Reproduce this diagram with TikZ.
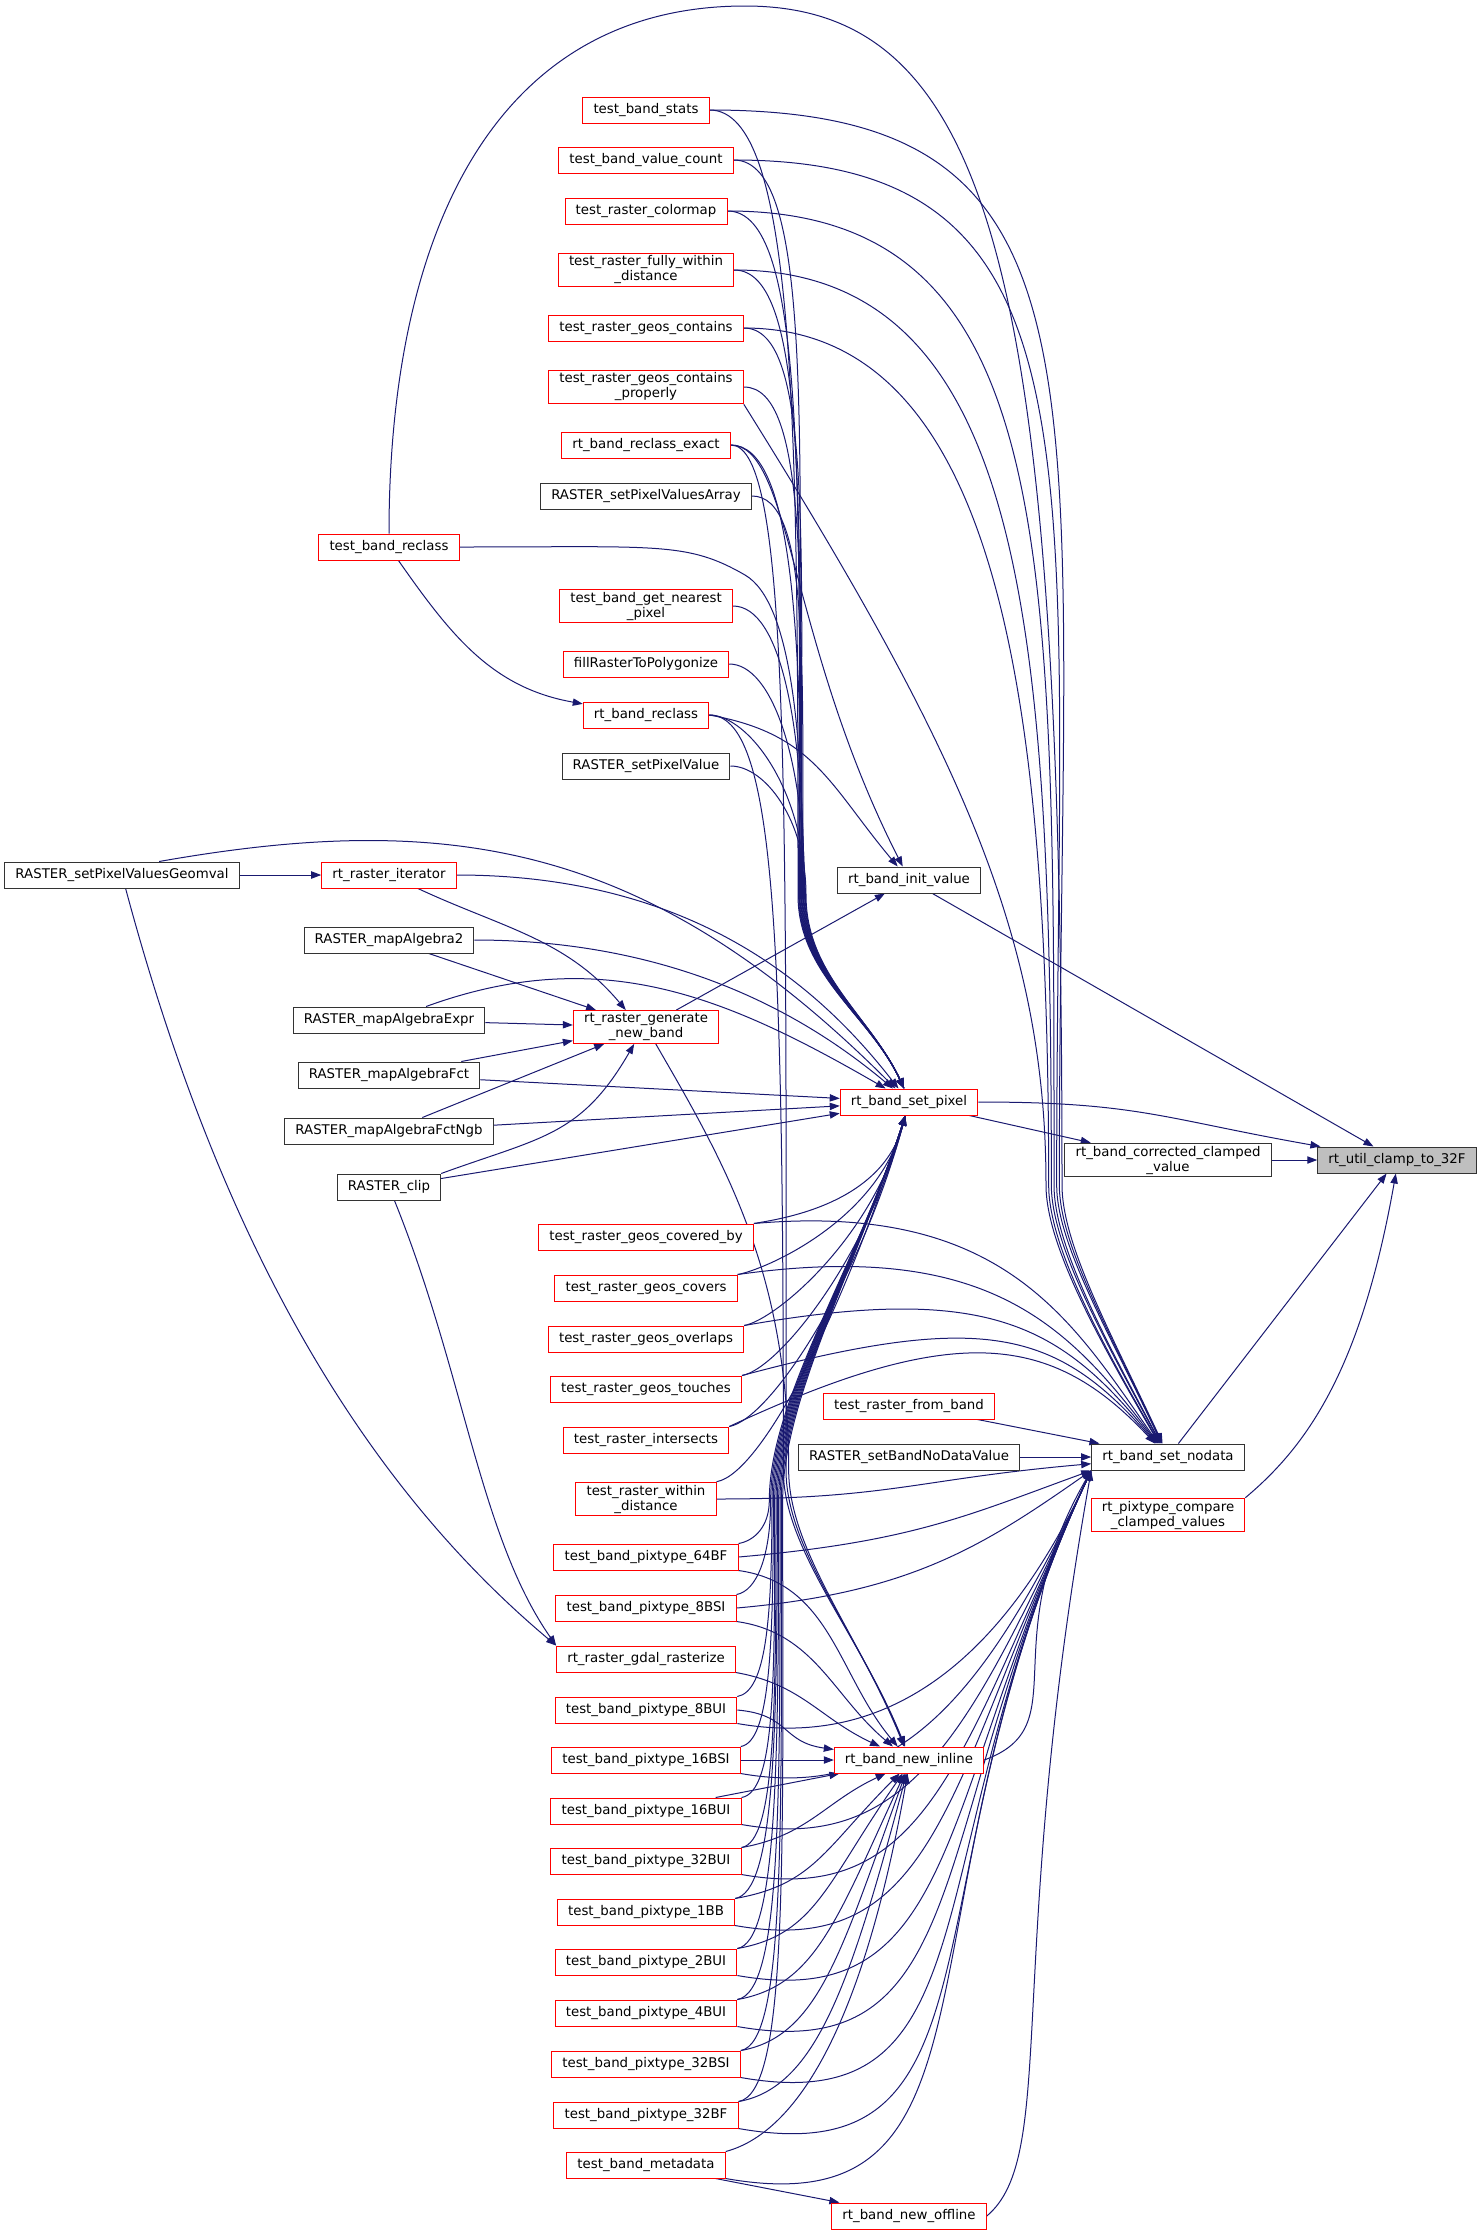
\documentclass[tikz,border=0pt]{standalone}
\usepackage{fontspec}
\setmainfont{DejaVu Sans}
\usetikzlibrary{arrows.meta}
\pgfdeclarelayer{edges}
\pgfsetlayers{edges,main}
\definecolor{edgeblue}{HTML}{191970}
\definecolor{rootgrey}{HTML}{BFBFBF}
\tikzstyle{fn}=[draw=black!80, fill=white, line width=0.75pt, inner xsep=8pt, inner ysep=2pt, minimum height=19.5pt, align=center, font=\fontsize{10}{11.25}\selectfont]
\tikzstyle{fnred}=[fn, draw=red]
\tikzstyle{fnroot}=[fn, fill=rootgrey]
\tikzstyle{call}=[edgeblue, line width=0.75pt, -{Triangle[length=7.5pt,width=5.5pt]}]

\begin{document}
\begin{tikzpicture}[x=0.75pt, y=-0.75pt]
\useasboundingbox (0,0) rectangle (1481,2235);

% the called function and the functions around it
\node[fnroot] (clamp) at (1397,1160) {rt\_util\_clamp\_to\_32F};
\node[fn] (corrected) at (1168,1160) {rt\_band\_corrected\_clamped\\\_value};
\node[fn] (setnodata) at (1168,1457) {rt\_band\_set\_nodata};
\node[fnred] (pixcompare) at (1168,1515) {rt\_pixtype\_compare\\\_clamped\_values};

\node[fn] (initvalue) at (909,880) {rt\_band\_init\_value};
\node[fnred] (setpixel) at (909,1102) {rt\_band\_set\_pixel};
\node[fnred] (fromband) at (909,1406) {test\_raster\_from\_band};
\node[fn] (setbandnodata) at (909,1457) {RASTER\_setBandNoDataValue};
\node[fnred] (newinline) at (909,1760) {rt\_band\_new\_inline};
\node[fnred] (newoffline) at (909,2216) {rt\_band\_new\_offline};

% callers, third column
\node[fnred] (stats) at (646,110) {test\_band\_stats};
\node[fnred] (valcount) at (646,160) {test\_band\_value\_count};
\node[fnred] (colormap) at (646,211) {test\_raster\_colormap};
\node[fnred] (fullywithin) at (646,270) {test\_raster\_fully\_within\\\_distance};
\node[fnred] (contains) at (646,328) {test\_raster\_geos\_contains};
\node[fnred] (containsprop) at (646,387) {test\_raster\_geos\_contains\\\_properly};
\node[fnred] (reclassexact) at (646,445) {rt\_band\_reclass\_exact};
\node[fn] (pvarray) at (646,496) {RASTER\_setPixelValuesArray};
\node[fnred] (nearest) at (646,606) {test\_band\_get\_nearest\\\_pixel};
\node[fnred] (fillraster) at (646,664) {fillRasterToPolygonize};
\node[fnred] (bandreclass) at (646,715) {rt\_band\_reclass};
\node[fn] (setpixelvalue) at (646,766) {RASTER\_setPixelValue};
\node[fnred] (gennewband) at (646,1027) {rt\_raster\_generate\\\_new\_band};
\node[fnred] (coveredby) at (646,1237) {test\_raster\_geos\_covered\_by};
\node[fnred] (covers) at (646,1288) {test\_raster\_geos\_covers};
\node[fnred] (overlaps) at (646,1339) {test\_raster\_geos\_overlaps};
\node[fnred] (touches) at (646,1389) {test\_raster\_geos\_touches};
\node[fnred] (intersects) at (646,1440) {test\_raster\_intersects};
\node[fnred] (withindist) at (646,1499) {test\_raster\_within\\\_distance};
\node[fnred] (p64BF) at (646,1557) {test\_band\_pixtype\_64BF};
\node[fnred] (p8BSI) at (646,1608) {test\_band\_pixtype\_8BSI};
\node[fnred] (rasterize) at (646,1659) {rt\_raster\_gdal\_rasterize};
\node[fnred] (p8BUI) at (646,1710) {test\_band\_pixtype\_8BUI};
\node[fnred] (p16BSI) at (646,1760) {test\_band\_pixtype\_16BSI};
\node[fnred] (p16BUI) at (646,1811) {test\_band\_pixtype\_16BUI};
\node[fnred] (p32BUI) at (646,1861) {test\_band\_pixtype\_32BUI};
\node[fnred] (p1BB) at (646,1912) {test\_band\_pixtype\_1BB};
\node[fnred] (p2BUI) at (646,1962) {test\_band\_pixtype\_2BUI};
\node[fnred] (p4BUI) at (646,2013) {test\_band\_pixtype\_4BUI};
\node[fnred] (p32BSI) at (646,2064) {test\_band\_pixtype\_32BSI};
\node[fnred] (p32BF) at (646,2115) {test\_band\_pixtype\_32BF};
\node[fnred] (metadata) at (646,2165) {test\_band\_metadata};

% callers, second and first column
\node[fnred] (tbreclass) at (389,547) {test\_band\_reclass};
\node[fnred] (iterator) at (389,875) {rt\_raster\_iterator};
\node[fn] (ma2) at (389,940) {RASTER\_mapAlgebra2};
\node[fn] (maexpr) at (389,1020) {RASTER\_mapAlgebraExpr};
\node[fn] (mafct) at (389,1075) {RASTER\_mapAlgebraFct};
\node[fn] (mangb) at (389,1131) {RASTER\_mapAlgebraFctNgb};
\node[fn] (clip) at (389,1187) {RASTER\_clip};
\node[fn] (geomval) at (122,875) {RASTER\_setPixelValuesGeomval};

% where the long edges gather
\coordinate (arctop) at (745,6);
\coordinate (tbbend) at (745,575);
\coordinate (nodatabend) at (1062,1185);
\coordinate (pixtop) at (802,895);
\coordinate (pixlow) at (776,1500);
\coordinate (inlinetop) at (786,1470);

\begin{pgfonlayer}{edges}
% into rt_util_clamp_to_32F
\draw[call] (initvalue) -- (clamp);
\draw[call] (setpixel.east) .. controls +(0:120pt) and +(170:120pt) .. (clamp.170);
\draw[call] (corrected) -- (clamp);
\draw[call] (setnodata) -- (clamp);
\draw[call] (pixcompare.north east) .. controls +(40:60pt) and +(-100:150pt) .. (clamp.-95);
\draw[call] (setpixel) -- (corrected);

% into rt_band_init_value
\draw[call] (gennewband) -- (initvalue);
\draw[call] (bandreclass.east) .. controls +(-10:80pt) and +(130:80pt) .. (initvalue.130);
\draw[call] (reclassexact.east) .. controls +(0:45pt) and +(117:188pt) .. (initvalue.115);

% into rt_band_set_nodata
\draw[call] (fromband) -- (setnodata);
\draw[call] (setbandnodata) -- (setnodata);
\draw[call] (newinline.east) .. controls +(20:75pt) and +(-120:150pt) .. (setnodata.south west);
\draw[call] (newoffline.east) .. controls +(40:70pt) and +(-100:375pt) .. (setnodata.south west);
\draw[call] (tbreclass.north) .. controls +(90:225pt) and +(180:188pt) .. (arctop)
  .. controls +(0:188pt) and +(90:675pt) .. (nodatabend)
  .. controls +(-90:45pt) and +(115:90pt) .. (setnodata.112);
\draw[call] (stats.east) .. controls +(0:315pt) and +(90:600pt) .. ([xshift=-2pt]nodatabend)
  .. controls +(-90:45pt) and +(115:90pt) .. (setnodata.114);
\draw[call] (valcount.east) .. controls +(0:285pt) and +(90:540pt) .. ([xshift=-4pt]nodatabend)
  .. controls +(-90:45pt) and +(115:90pt) .. (setnodata.116);
\draw[call] (colormap.east) .. controls +(0:248pt) and +(90:480pt) .. ([xshift=-6pt]nodatabend)
  .. controls +(-90:45pt) and +(118:90pt) .. (setnodata.118);
\draw[call] (fullywithin.east) .. controls +(0:218pt) and +(90:420pt) .. ([xshift=-8pt]nodatabend)
  .. controls +(-90:45pt) and +(118:90pt) .. (setnodata.120);
\draw[call] (contains.east) .. controls +(0:188pt) and +(90:375pt) .. ([xshift=-10pt]nodatabend)
  .. controls +(-90:45pt) and +(120:90pt) .. (setnodata.122);
\draw[call] (containsprop.south east) .. controls +(-58:300pt) and +(90:188pt) .. ([xshift=-12pt]nodatabend)
  .. controls +(-90:45pt) and +(120:90pt) .. (setnodata.124);
\draw[call] (coveredby.north east) .. controls +(5:188pt) and +(125:113pt) .. (setnodata.126);
\draw[call] (covers.north east) .. controls +(8:188pt) and +(127:113pt) .. (setnodata.128);
\draw[call] (overlaps.north east) .. controls +(10:188pt) and +(129:113pt) .. (setnodata.130);
\draw[call] (touches.north east) .. controls +(15:188pt) and +(131:113pt) .. (setnodata.132);
\draw[call] (intersects.north east) .. controls +(25:188pt) and +(133:113pt) .. (setnodata.134);
\draw[call] (withindist.east) .. controls +(0:130pt) and +(185:130pt) .. (setnodata.185);
\draw[call] (p64BF.east) .. controls +(5:130pt) and +(200:100pt) .. (setnodata.south west);
\draw[call] (p8BSI.east) .. controls +(5:130pt) and +(215:100pt) .. (setnodata.south west);
\draw[call] (p8BUI.south east) .. controls +(-10:104pt) and +(-115:172pt) .. (setnodata.south west);
\draw[call] (p16BSI.south east) .. controls +(-10:117pt) and +(-115:192pt) .. (setnodata.south west);
\draw[call] (p16BUI.south east) .. controls +(-10:130pt) and +(-115:213pt) .. (setnodata.south west);
\draw[call] (p32BUI.south east) .. controls +(-10:143pt) and +(-115:234pt) .. (setnodata.south west);
\draw[call] (p1BB.south east) .. controls +(-10:157pt) and +(-115:255pt) .. (setnodata.south west);
\draw[call] (p2BUI.south east) .. controls +(-10:170pt) and +(-115:275pt) .. (setnodata.south west);
\draw[call] (p4BUI.south east) .. controls +(-10:183pt) and +(-115:296pt) .. (setnodata.south west);
\draw[call] (p32BSI.south east) .. controls +(-10:196pt) and +(-115:317pt) .. (setnodata.south west);
\draw[call] (p32BF.south east) .. controls +(-10:210pt) and +(-115:338pt) .. (setnodata.south west);
\draw[call] (metadata.south east) .. controls +(-10:223pt) and +(-115:359pt) .. (setnodata.south west);

% into rt_band_set_pixel, from above
\draw[call] (stats.east) .. controls +(0:65pt) and +(90:351pt) .. ([xshift=-3pt]pixtop)
  .. controls +(-90:60pt) and +(115:60pt) .. (setpixel.110);
\draw[call] (valcount.east) .. controls +(0:62pt) and +(90:329pt) .. ([xshift=-2.5pt]pixtop)
  .. controls +(-90:60pt) and +(115:60pt) .. (setpixel.110);
\draw[call] (colormap.east) .. controls +(0:59pt) and +(90:305pt) .. ([xshift=-2pt]pixtop)
  .. controls +(-90:60pt) and +(115:60pt) .. (setpixel.110);
\draw[call] (fullywithin.east) .. controls +(0:56pt) and +(90:279pt) .. ([xshift=-1.5pt]pixtop)
  .. controls +(-90:60pt) and +(115:60pt) .. (setpixel.110);
\draw[call] (contains.east) .. controls +(0:53pt) and +(90:253pt) .. ([xshift=-1pt]pixtop)
  .. controls +(-90:60pt) and +(115:60pt) .. (setpixel.110);
\draw[call] (containsprop.east) .. controls +(0:49pt) and +(90:226pt) .. ([xshift=-0.5pt]pixtop)
  .. controls +(-90:60pt) and +(115:60pt) .. (setpixel.110);
\draw[call] (reclassexact.east) .. controls +(0:46pt) and +(90:200pt) .. (pixtop)
  .. controls +(-90:60pt) and +(115:60pt) .. (setpixel.110);
\draw[call] (pvarray.east) .. controls +(0:43pt) and +(90:177pt) .. ([xshift=0.5pt]pixtop)
  .. controls +(-90:60pt) and +(115:60pt) .. (setpixel.110);
\draw[call] (tbreclass.east) .. controls +(0:150pt) and +(150:50pt) .. (tbbend)
  .. controls +(-30:40pt) and +(90:120pt) .. ([xshift=1pt]pixtop)
  .. controls +(-90:60pt) and +(115:60pt) .. (setpixel.110);
\draw[call] (nearest.east) .. controls +(0:36pt) and +(90:128pt) .. ([xshift=1.5pt]pixtop)
  .. controls +(-90:60pt) and +(115:60pt) .. (setpixel.110);
\draw[call] (fillraster.east) .. controls +(0:32pt) and +(90:102pt) .. ([xshift=2pt]pixtop)
  .. controls +(-90:60pt) and +(115:60pt) .. (setpixel.110);
\draw[call] (bandreclass.east) .. controls +(0:29pt) and +(90:79pt) .. ([xshift=2.5pt]pixtop)
  .. controls +(-90:60pt) and +(115:60pt) .. (setpixel.110);
\draw[call] (setpixelvalue.east) .. controls +(0:26pt) and +(90:56pt) .. ([xshift=3pt]pixtop)
  .. controls +(-90:60pt) and +(115:60pt) .. (setpixel.110);

% into rt_band_set_pixel, from the left
\draw[call] (geomval.20) .. controls +(10:221pt) and +(135:262pt) .. (setpixel.135);
\draw[call] (iterator.east) .. controls +(0:186pt) and +(128:86pt) .. (setpixel.128);
\draw[call] (ma2.east) .. controls +(0:157pt) and +(140:78pt) .. (setpixel.140);
\draw[call] (maexpr.20) .. controls +(20:139pt) and +(150:139pt) .. (setpixel.150);
\draw[call] (mafct) -- (setpixel);
\draw[call] (mangb) -- (setpixel);
\draw[call] (clip) -- (setpixel);

% into rt_band_set_pixel, from below
\draw[call] (coveredby.north east) .. controls +(10:18pt) and +(-105:70pt) .. (setpixel.-105);
\draw[call] (covers.north east) .. controls +(10:21pt) and +(-105:82pt) .. (setpixel.-105);
\draw[call] (overlaps.north east) .. controls +(10:24pt) and +(-105:95pt) .. (setpixel.-105);
\draw[call] (touches.north east) .. controls +(10:28pt) and +(-105:110pt) .. (setpixel.-105);
\draw[call] (intersects.north east) .. controls +(10:32pt) and +(-105:125pt) .. (setpixel.-105);
\draw[call] (withindist.north east) .. controls +(10:36pt) and +(-107:141pt) .. (setpixel.-105);
\draw[call] (p64BF.north east) .. controls +(10:12pt) and +(-90:20pt) .. ([xshift=-5pt]pixlow)
  .. controls +(90:75pt) and +(-108:120pt) .. (setpixel.-105);
\draw[call] (p8BSI.north east) .. controls +(10:15pt) and +(-90:43pt) .. ([xshift=-4pt]pixlow)
  .. controls +(90:75pt) and +(-108:120pt) .. (setpixel.-105);
\draw[call] (p8BUI.north east) .. controls +(10:22pt) and +(-90:89pt) .. ([xshift=-3pt]pixlow)
  .. controls +(90:75pt) and +(-108:120pt) .. (setpixel.-105);
\draw[call] (p16BSI.north east) .. controls +(10:22pt) and +(-90:112pt) .. ([xshift=-2pt]pixlow)
  .. controls +(90:75pt) and +(-108:120pt) .. (setpixel.-105);
\draw[call] (p16BUI.north east) .. controls +(10:26pt) and +(-90:135pt) .. ([xshift=-1pt]pixlow)
  .. controls +(90:75pt) and +(-108:120pt) .. (setpixel.-105);
\draw[call] (p32BUI.north east) .. controls +(10:26pt) and +(-90:157pt) .. (pixlow)
  .. controls +(90:75pt) and +(-108:120pt) .. (setpixel.-105);
\draw[call] (p1BB.north east) .. controls +(10:30pt) and +(-90:180pt) .. ([xshift=1pt]pixlow)
  .. controls +(90:75pt) and +(-108:120pt) .. (setpixel.-105);
\draw[call] (p2BUI.north east) .. controls +(10:30pt) and +(-90:203pt) .. ([xshift=2pt]pixlow)
  .. controls +(90:75pt) and +(-108:120pt) .. (setpixel.-105);
\draw[call] (p4BUI.north east) .. controls +(10:34pt) and +(-90:225pt) .. ([xshift=3pt]pixlow)
  .. controls +(90:75pt) and +(-108:120pt) .. (setpixel.-105);
\draw[call] (p32BSI.north east) .. controls +(10:34pt) and +(-90:248pt) .. ([xshift=4pt]pixlow)
  .. controls +(90:75pt) and +(-108:120pt) .. (setpixel.-105);
\draw[call] (p32BF.north east) .. controls +(10:38pt) and +(-90:271pt) .. ([xshift=5pt]pixlow)
  .. controls +(90:75pt) and +(-108:120pt) .. (setpixel.-105);

% into rt_band_new_inline
\draw[call] (bandreclass.east) .. controls +(0:50pt) and +(90:400pt) .. ([xshift=-2pt]inlinetop)
  .. controls +(-90:60pt) and +(112:90pt) .. (newinline.106);
\draw[call] (reclassexact.east) .. controls +(0:45pt) and +(90:500pt) .. (inlinetop)
  .. controls +(-90:60pt) and +(112:90pt) .. (newinline.108);
\draw[call] (gennewband.-60) .. controls +(-60:100pt) and +(90:150pt) .. ([xshift=2pt]inlinetop)
  .. controls +(-90:60pt) and +(112:90pt) .. (newinline.110);
\draw[call] (p64BF.south east) .. controls +(-8:70pt) and +(130:70pt) .. (newinline.130);
\draw[call] (p8BSI.south east) .. controls +(-8:59pt) and +(140:59pt) .. (newinline.140);
\draw[call] (rasterize.south east) .. controls +(-10:50pt) and +(155:50pt) .. (newinline.155);
\draw[call] (p8BUI.east) .. controls +(-5:40pt) and +(172:40pt) .. (newinline.172);
\draw[call] (p16BSI) -- (newinline);
\draw[call] (p16BUI) -- (newinline);
\draw[call] (p32BUI.north east) .. controls +(10:50pt) and +(-155:50pt) .. (newinline.-150);
\draw[call] (p1BB.north east) .. controls +(10:60pt) and +(-135:80pt) .. (newinline.-125);
\draw[call] (p2BUI.north east) .. controls +(10:60pt) and +(-125:100pt) .. (newinline.-115);
\draw[call] (p4BUI.north east) .. controls +(10:60pt) and +(-115:120pt) .. (newinline.-108);
\draw[call] (p32BSI.north east) .. controls +(10:60pt) and +(-110:140pt) .. (newinline.-104);
\draw[call] (p32BF.north east) .. controls +(10:60pt) and +(-105:160pt) .. (newinline.-100);
\draw[call] (metadata.north east) .. controls +(15:60pt) and +(-100:180pt) .. (newinline.-96);
\draw[call] (metadata) -- (newoffline);

% the rest
\draw[call] (tbreclass.-55) .. controls +(-55:69pt) and +(170:69pt) .. (bandreclass.170);
\draw[call] (geomval) -- (iterator);
\draw[call] (geomval.-75) .. controls +(-75:261pt) and +(140:200pt) .. (rasterize.north west);
\draw[call] (clip.-68) .. controls +(-68:140pt) and +(125:100pt) .. (rasterize.north west);
\draw[call] (iterator.-25) .. controls +(-25:70pt) and +(130:70pt) .. (gennewband.140);
\draw[call] (ma2) -- (gennewband);
\draw[call] (maexpr) -- (gennewband);
\draw[call] (mafct) -- (gennewband);
\draw[call] (mangb) -- (gennewband);
\draw[call] (clip.north east) .. controls +(20:80pt) and +(-120:80pt) .. (gennewband.-125);
\end{pgfonlayer}
\end{tikzpicture}
\end{document}
